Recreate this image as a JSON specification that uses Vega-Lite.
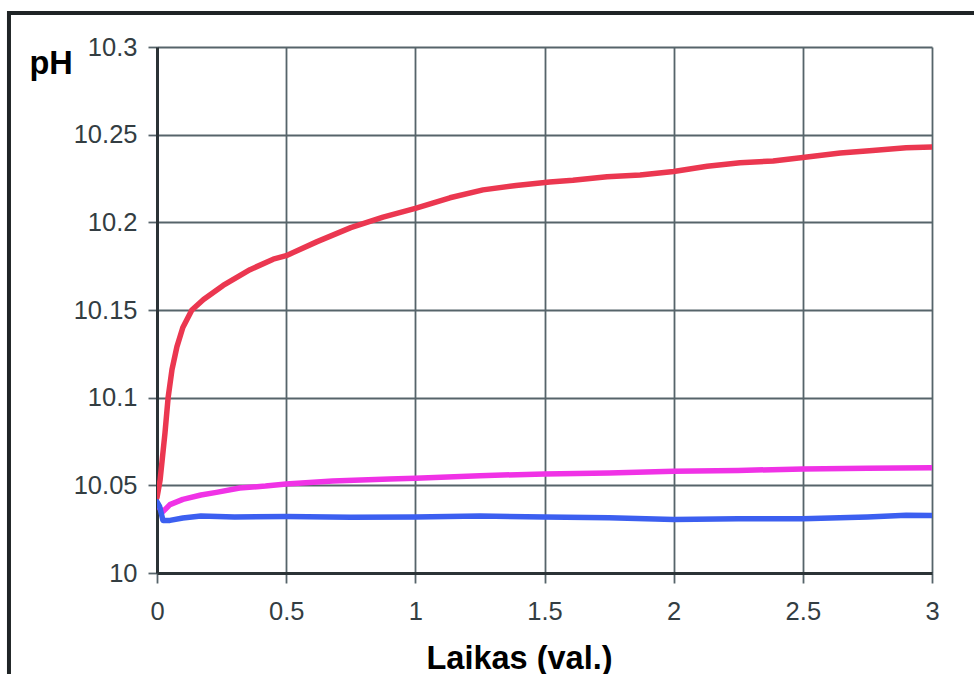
{
  "$schema": "https://vega.github.io/schema/vega-lite/v6.json",
  "width": 775,
  "height": 526,
  "autosize": {"type": "none"},
  "padding": {"left": 157, "top": 47, "right": 42, "bottom": 101},
  "background": "white",
  "config": {
    "view": {"stroke": null},
    "axis": {
      "labelFont": "Liberation Sans",
      "labelFontSize": 25.5,
      "labelColor": "#333d42",
      "labelFlush": false,
      "titleFont": "Liberation Sans",
      "titleFontSize": 32.5,
      "titleFontWeight": "bold",
      "titleColor": "#000000",
      "grid": true,
      "gridColor": "#56646a",
      "gridWidth": 1.8,
      "gridOpacity": 1,
      "domainColor": "#2b3336",
      "domainWidth": 3,
      "tickColor": "#56646a",
      "tickWidth": 1.8,
      "tickSize": 10
    }
  },
  "datasets": {
    "ph": [
      {"t": 0, "pH": 10.043, "s": "A"},
      {"t": 0.012, "pH": 10.053, "s": "A"},
      {"t": 0.031, "pH": 10.08, "s": "A"},
      {"t": 0.043, "pH": 10.1, "s": "A"},
      {"t": 0.058, "pH": 10.116, "s": "A"},
      {"t": 0.077, "pH": 10.129, "s": "A"},
      {"t": 0.1, "pH": 10.14, "s": "A"},
      {"t": 0.135, "pH": 10.15, "s": "A"},
      {"t": 0.18, "pH": 10.156, "s": "A"},
      {"t": 0.256, "pH": 10.164, "s": "A"},
      {"t": 0.36, "pH": 10.173, "s": "A"},
      {"t": 0.45, "pH": 10.179, "s": "A"},
      {"t": 0.5, "pH": 10.181, "s": "A"},
      {"t": 0.62, "pH": 10.189, "s": "A"},
      {"t": 0.75, "pH": 10.197, "s": "A"},
      {"t": 0.875, "pH": 10.203, "s": "A"},
      {"t": 1.0, "pH": 10.208, "s": "A"},
      {"t": 1.134, "pH": 10.214, "s": "A"},
      {"t": 1.262, "pH": 10.2185, "s": "A"},
      {"t": 1.39, "pH": 10.221, "s": "A"},
      {"t": 1.52, "pH": 10.223, "s": "A"},
      {"t": 1.61, "pH": 10.224, "s": "A"},
      {"t": 1.742, "pH": 10.226, "s": "A"},
      {"t": 1.87, "pH": 10.227, "s": "A"},
      {"t": 2.0, "pH": 10.229, "s": "A"},
      {"t": 2.13, "pH": 10.232, "s": "A"},
      {"t": 2.257, "pH": 10.234, "s": "A"},
      {"t": 2.385, "pH": 10.235, "s": "A"},
      {"t": 2.5, "pH": 10.237, "s": "A"},
      {"t": 2.645, "pH": 10.2395, "s": "A"},
      {"t": 2.77, "pH": 10.241, "s": "A"},
      {"t": 2.9, "pH": 10.2425, "s": "A"},
      {"t": 3.0, "pH": 10.243, "s": "A"},
      {"t": 0, "pH": 10.04, "s": "B"},
      {"t": 0.01, "pH": 10.037, "s": "B"},
      {"t": 0.023, "pH": 10.035, "s": "B"},
      {"t": 0.05, "pH": 10.039, "s": "B"},
      {"t": 0.1, "pH": 10.042, "s": "B"},
      {"t": 0.17, "pH": 10.0445, "s": "B"},
      {"t": 0.23, "pH": 10.046, "s": "B"},
      {"t": 0.32, "pH": 10.0485, "s": "B"},
      {"t": 0.42, "pH": 10.0496, "s": "B"},
      {"t": 0.5, "pH": 10.0508, "s": "B"},
      {"t": 0.68, "pH": 10.0525, "s": "B"},
      {"t": 0.9, "pH": 10.0536, "s": "B"},
      {"t": 1.0, "pH": 10.054, "s": "B"},
      {"t": 1.25, "pH": 10.0555, "s": "B"},
      {"t": 1.5, "pH": 10.0565, "s": "B"},
      {"t": 1.75, "pH": 10.057, "s": "B"},
      {"t": 2.0, "pH": 10.058, "s": "B"},
      {"t": 2.25, "pH": 10.0585, "s": "B"},
      {"t": 2.5, "pH": 10.0593, "s": "B"},
      {"t": 2.75, "pH": 10.0597, "s": "B"},
      {"t": 3.0, "pH": 10.06, "s": "B"},
      {"t": 0, "pH": 10.0405, "s": "C"},
      {"t": 0.01, "pH": 10.038, "s": "C"},
      {"t": 0.023, "pH": 10.03, "s": "C"},
      {"t": 0.05, "pH": 10.03, "s": "C"},
      {"t": 0.1, "pH": 10.0314, "s": "C"},
      {"t": 0.17, "pH": 10.0325, "s": "C"},
      {"t": 0.3, "pH": 10.032, "s": "C"},
      {"t": 0.5, "pH": 10.0322, "s": "C"},
      {"t": 0.75, "pH": 10.0318, "s": "C"},
      {"t": 1.0, "pH": 10.032, "s": "C"},
      {"t": 1.25, "pH": 10.0325, "s": "C"},
      {"t": 1.5, "pH": 10.032, "s": "C"},
      {"t": 1.75, "pH": 10.0315, "s": "C"},
      {"t": 2.0, "pH": 10.0305, "s": "C"},
      {"t": 2.25, "pH": 10.031, "s": "C"},
      {"t": 2.5, "pH": 10.031, "s": "C"},
      {"t": 2.75, "pH": 10.032, "s": "C"},
      {"t": 2.9, "pH": 10.033, "s": "C"},
      {"t": 3.0, "pH": 10.0328, "s": "C"}
    ]
  },
  "layer": [
    {
      "data": {"name": "ph"},
      "mark": {"type": "line", "strokeWidth": 5.5, "strokeCap": "round", "strokeJoin": "round", "clip": true},
      "encoding": {
        "x": {
          "field": "t",
          "type": "quantitative",
          "scale": {"domain": [0, 3], "nice": false, "zero": false},
          "axis": {
            "values": [0, 0.5, 1, 1.5, 2, 2.5, 3],
            "format": ".1~f",
            "labelPadding": 16,
            "title": "Laikas (val.)",
            "titleX": 362,
            "titleY": 95,
            "titleAlign": "center",
            "titleBaseline": "alphabetic"
          }
        },
        "y": {
          "field": "pH",
          "type": "quantitative",
          "scale": {"domain": [10, 10.3], "nice": false, "zero": false},
          "axis": {
            "values": [10, 10.05, 10.1, 10.15, 10.2, 10.25, 10.3],
            "format": ".2~f",
            "tickSize": 9,
            "labelPadding": 11,
            "title": "pH",
            "titleAngle": 0,
            "titleX": -128,
            "titleY": 26,
            "titleAlign": "left",
            "titleBaseline": "alphabetic"
          }
        },
        "color": {
          "field": "s",
          "type": "nominal",
          "scale": {"domain": ["A", "B", "C"], "range": ["#eb3750", "#f032e6", "#3c5ff0"]},
          "legend": null
        }
      }
    },
    {
      "data": {"values": [{}]},
      "mark": {"type": "rule", "color": "#1f2426", "strokeWidth": 4},
      "encoding": {
        "x": {"datum": -0.58, "type": "quantitative", "scale": {"domain": [0, 3], "nice": false, "zero": false}},
        "x2": {"datum": 3.3},
        "y": {"datum": 10.3194, "type": "quantitative", "scale": {"domain": [10, 10.3], "nice": false, "zero": false}}
      }
    },
    {
      "data": {"values": [{}]},
      "mark": {"type": "rule", "color": "#1f2426", "strokeWidth": 4},
      "encoding": {
        "x": {"datum": -0.573, "type": "quantitative", "scale": {"domain": [0, 3], "nice": false, "zero": false}},
        "y": {"datum": 10.3206, "type": "quantitative", "scale": {"domain": [10, 10.3], "nice": false, "zero": false}},
        "y2": {"datum": 9.93}
      }
    }
  ]
}
